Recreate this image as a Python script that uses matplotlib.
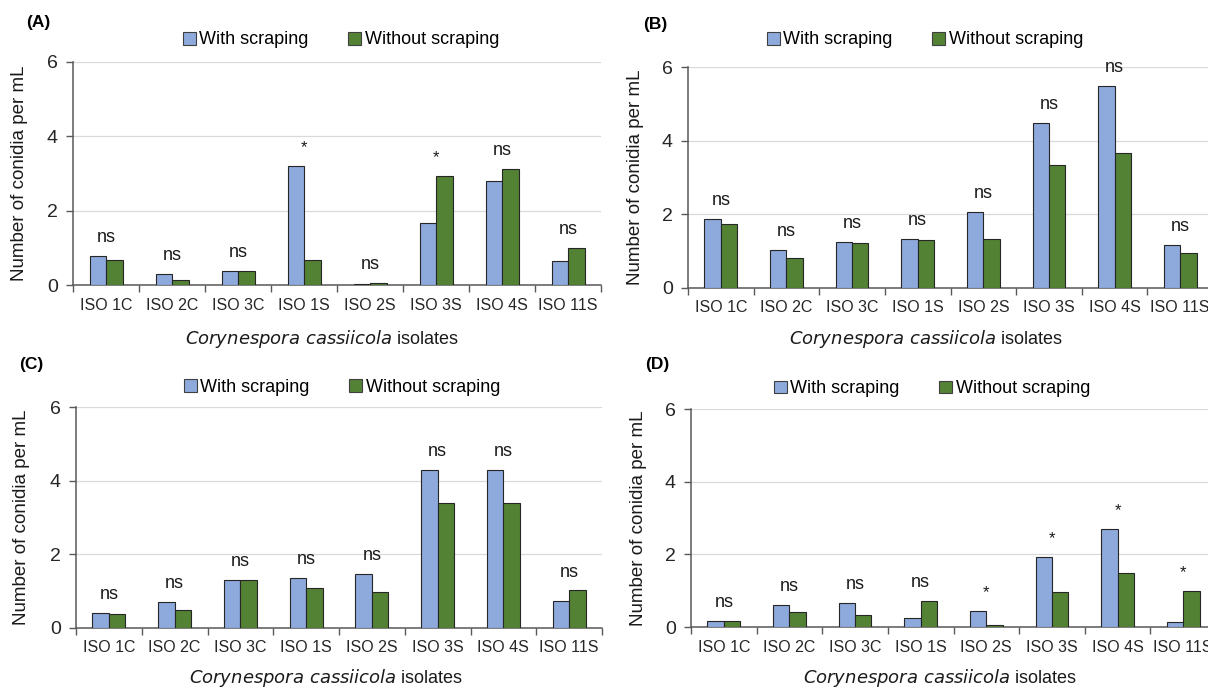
import matplotlib
matplotlib.use("Agg")
import matplotlib.pyplot as plt
import numpy as np
from matplotlib.patches import Patch

plt.rcParams['font.family'] = ['Liberation Sans', 'DejaVu Sans']

isolates = ["ISO 1C", "ISO 2C", "ISO 3C", "ISO 1S", "ISO 2S", "ISO 3S", "ISO 4S", "ISO 11S"]
series_names = ["With scraping", "Without scraping"]

a_with = [0.78, 0.29, 0.38, 3.19, 0.04, 1.67, 2.79, 0.65]
a_without = [0.68, 0.14, 0.38, 0.68, 0.06, 2.94, 3.13, 0.99]
a_sig = ["ns", "ns", "ns", "*", "ns", "*", "ns", "ns"]

b_with = [1.87, 1.04, 1.24, 1.32, 2.07, 4.48, 5.48, 1.16]
b_without = [1.75, 0.82, 1.21, 1.30, 1.32, 3.33, 3.66, 0.96]
b_sig = ["ns", "ns", "ns", "ns", "ns", "ns", "ns", "ns"]

c_with = [0.40, 0.71, 1.31, 1.36, 1.47, 4.28, 4.28, 0.73]
c_without = [0.39, 0.48, 1.31, 1.08, 0.99, 3.40, 3.40, 1.02]
c_sig = ["ns", "ns", "ns", "ns", "ns", "ns", "ns", "ns"]

d_with = [0.16, 0.60, 0.65, 0.25, 0.45, 1.92, 2.69, 0.13]
d_without = [0.16, 0.42, 0.33, 0.71, 0.05, 0.97, 1.49, 0.98]
d_sig = ["ns", "ns", "ns", "ns", "*", "*", "*", "*"]

panel_labels = ["(A)", "(B)", "(C)", "(D)"]
y_ticks = [0, 2, 4, 6]

BLUE = "#8EA9DB"
GREEN = "#548235"
EDGE = "#262626"
W, H = 1208, 687

fig = plt.figure(figsize=(W / 100, H / 100), dpi=100)

# layout in pixels: left, right, top, bottom
layouts = [
    (73, 601, 62, 285),
    (688, 1213, 67, 288),
    (76, 602, 407, 628),
    (691, 1216, 409, 627),
]
legend_centers = [(341, 40), (925, 40), (342, 387), (932, 389)]
label_pos = [(26, 23), (643, 25), (19, 365), (645, 365)]
ylabel_x = [20, 636, 22, 639]
xlabel_pos = [(322, 339), (926, 339), (326, 678), (940, 678)]

datasets = [
    (a_with, a_without, a_sig),
    (b_with, b_without, b_sig),
    (c_with, c_without, c_sig),
    (d_with, d_without, d_sig),
]

x = np.arange(len(isolates))
bw = 0.25

for i, ((w, wo, sig), (l, r, t, b)) in enumerate(zip(datasets, layouts)):
    ax = fig.add_axes([l / W, (H - b) / H, (r - l) / W, (b - t) / H])
    ax.set_axisbelow(True)
    ax.bar(x - bw / 2, w, bw, color=BLUE, edgecolor=EDGE, linewidth=0.8, zorder=3)
    ax.bar(x + bw / 2, wo, bw, color=GREEN, edgecolor=EDGE, linewidth=0.8, zorder=3)
    ax.set_xlim(-0.5, len(isolates) - 0.5)
    ax.set_ylim(0, 6)
    ax.set_yticks(y_ticks)
    ax.set_yticklabels([str(v) for v in y_ticks], fontsize=14, color="#262626")
    ax.set_xticks(x)
    ax.set_xticklabels(isolates, fontsize=11.5, color="#262626")
    ax.tick_params(axis='x', length=0, pad=9)
    ax.set_xticks(np.arange(-0.5, len(isolates), 1.0), minor=True)
    ax.tick_params(axis='x', which='minor', length=5, width=1, color="#595959", direction='out')
    ax.tick_params(axis='y', length=5, width=1, color="#595959", direction='out', pad=6)
    ax.grid(axis='y', color="#d9d9d9", linewidth=0.9)
    for s in ['top', 'right']:
        ax.spines[s].set_visible(False)
    for s in ['left', 'bottom']:
        ax.spines[s].set_color("#595959")
        ax.spines[s].set_linewidth(1.1)
    ax.set_ylabel("Number of conidia per mL", fontsize=13.5, color="#1a1a1a", va='center')
    ax.yaxis.set_label_coords((ylabel_x[i] - l) / (r - l), 0.5)

    for xi, hw, hwo, s in zip(x, w, wo, sig):
        ax.annotate(s, xy=(xi, max(hw, hwo)), xytext=(0, 10), textcoords='offset points',
                    ha='center', va='baseline', fontsize=13 if s == "ns" else 12, color="#1a1a1a")

    cx, cy = legend_centers[i]
    handles = [Patch(facecolor=BLUE, edgecolor="#404040", linewidth=0.8),
               Patch(facecolor=GREEN, edgecolor="#404040", linewidth=0.8)]
    fig.legend(handles, series_names, loc='center', bbox_to_anchor=(cx / W, 1 - cy / H),
               ncol=2, frameon=False, fontsize=13, handlelength=0.7, handleheight=0.7,
               handletextpad=0.2, columnspacing=2.2, borderpad=0)

    lx, ly = label_pos[i]
    fig.text(lx / W, 1 - ly / H, panel_labels[i], fontsize=12.5, fontweight='bold',
             ha='left', va='center')

    xx, xy = xlabel_pos[i]
    fig.text(xx / W, 1 - xy / H, r"$\it{Corynespora\ cassiicola}$ isolates", fontsize=13,
             ha='center', va='center', color="#1a1a1a")

fig.savefig("out.png", dpi=100)
